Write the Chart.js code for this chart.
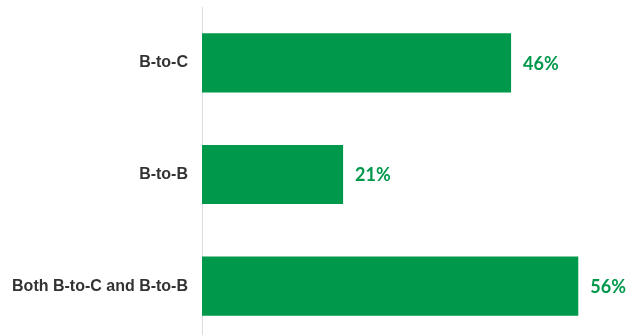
<!DOCTYPE html>
<html>
<head>
<meta charset="utf-8">
<script src="https://cdn.jsdelivr.net/npm/chart.js@4"></script>
<style>
  html, body { margin: 0; padding: 0; overflow: hidden; background: #fff; }
  #wrap { width: 628px; height: 342px; }
</style>
</head>
<body>
<div id="wrap"><canvas id="chart"></canvas></div>
<script>
const categories = ['B-to-C', 'B-to-B', 'Both B-to-C and B-to-B'];
const shares = [46, 21, 56];

const green = 'rgb(0, 152, 74)';

// draws the "46%" style labels at the end of each bar
const valueLabels = {
    id: 'valueLabels',
    afterDatasetsDraw(chart) {
        const ctx = chart.ctx;
        const meta = chart.getDatasetMeta(0);
        ctx.save();
        ctx.fillStyle = green;
        ctx.font = 'bold 18px Lato';
        ctx.textBaseline = 'middle';
        ctx.textAlign = 'left';
        meta.data.forEach((bar, i) => {
            ctx.fillText(shares[i] + '%', bar.x + 12, bar.y + 1);
        });
        ctx.restore();
    }
};

const ctx0 = document.getElementById('chart').getContext('2d');
const chart = new Chart(ctx0, {
    type: 'bar',
    data: {
        labels: categories,
        datasets: [{
            data: shares,
            backgroundColor: green,
            categoryPercentage: 1,
            barPercentage: 0.53
        }]
    },
    plugins: [valueLabels],
    options: {
        indexAxis: 'y',
        animation: false,
        responsive: true,
        maintainAspectRatio: false,
        layout: { padding: { top: 7, left: 0, right: 0, bottom: 0 } },
        plugins: {
            legend: { display: false },
            tooltip: { enabled: false }
        },
        scales: {
            x: {
                display: false,
                min: 0,
                max: 63.4
            },
            y: {
                afterFit(scale) {
                    scale.width = 202;
                    scale.paddingTop = 0;
                    scale.paddingBottom = 0;
                },
                grid: { display: false, drawTicks: false },
                border: { display: true, color: '#dcdcdc', width: 1 },
                ticks: {
                    color: '#333',
                    padding: 14,
                    font: { family: 'Liberation Sans, Arial, sans-serif', size: 16, weight: 'bold' }
                }
            }
        }
    }
});
</script>
</body>
</html>
